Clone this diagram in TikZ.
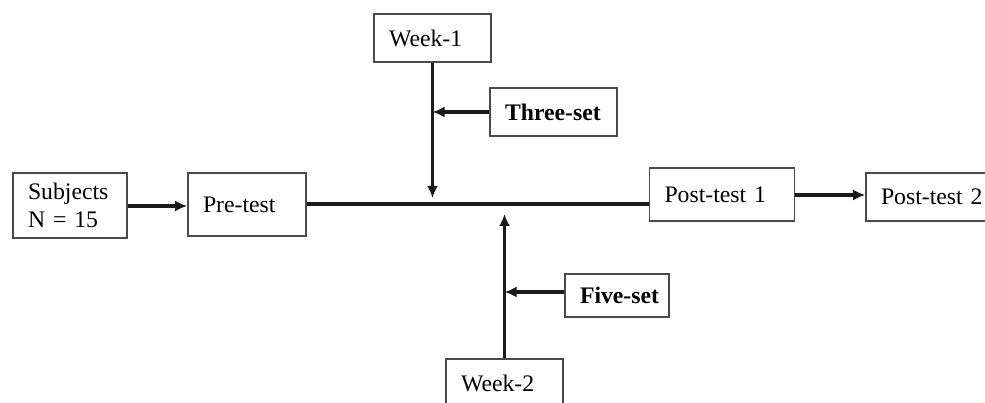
\documentclass[tikz,border=0pt]{standalone}
\usepackage{fontspec}
\setmainfont{Liberation Serif}
\usetikzlibrary{arrows.meta,positioning,calc}
\definecolor{Edge}{HTML}{4A4A4A}
\definecolor{Ink}{HTML}{1A1A1A}
\tikzset{
  box/.style={draw=Edge,line width=.9pt,fill=white,minimum height=.96cm,
    inner xsep=.3cm,inner ysep=2pt,text width=#1,align=left,
    font=\fontsize{13.5}{16}\selectfont,
    execute at begin node={\hyphenpenalty=10000\exhyphenpenalty=10000\hbadness=10000\hfuzz=5cm}},
  setbox/.style={box=#1,font=\fontsize{13.5}{16}\selectfont\bfseries},
  arrow/.style={-{Latex[length=2.4mm,width=2.2mm]},draw=Ink,line width=1.6pt},
  mainline/.style={draw=Ink,line width=1.8pt}
}
\begin{document}
\begin{tikzpicture}
    \useasboundingbox (0,0) rectangle (19.7,8.06);
    \node[box=1.68cm,minimum height=1.30cm] (subj) at (1.40,3.95) {Subjects\\N~=~15};
    \node[box=1.76cm,minimum height=1.26cm] (pre) at (4.94,3.97) {Pre-test};
    \node[box=1.74cm] (wk1) at (8.65,7.30) {Week-1};
    \node[setbox=1.94cm] (three) at (11.07,5.82) {Three-set};
    \node[box=2.30cm,minimum height=1.06cm] (post1) at (14.44,4.17) {Post-test~1};
    \node[box=2.00cm] (post2) at (18.62,4.12) {Post-test~2};
    \node[setbox=1.48cm,minimum height=.86cm] (five) at (12.34,2.15) {Five-set};
    \node[box=1.74cm] (wk2) at (10.09,0.40) {Week-2};
    \coordinate (m1) at (8.65,4.10);
    \coordinate (m2) at (10.09,3.78);
    \draw[arrow,line width=1.8pt] (subj.east|-0,3.94)--(pre.west|-0,3.94);
    \draw[mainline] (pre.east|-0,3.98)--(post1.west|-0,3.98);
    \draw[arrow] (wk1.south)--(m1); \draw[arrow] (wk2.north)--(m2);
    \draw[arrow,line width=1.8pt] (three.west)--(three.west-|m1);
    \draw[arrow,line width=1.8pt] (five.west|-0,2.22)--(m2|-0,2.22);
    \draw[arrow,line width=1.8pt] (post1.east|-0,4.16)--(post2.west|-0,4.16);
  \end{tikzpicture}
\end{document}
